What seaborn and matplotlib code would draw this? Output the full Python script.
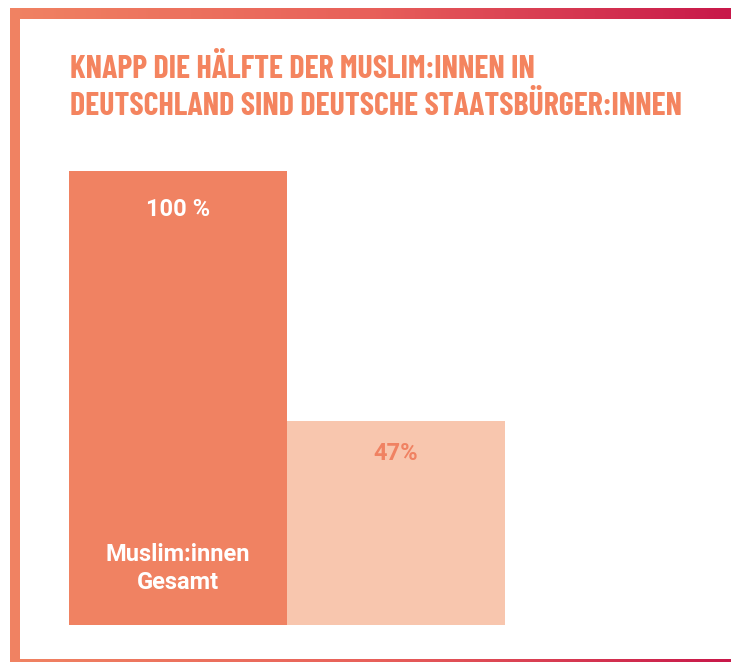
import matplotlib
matplotlib.use("Agg")
import matplotlib.pyplot as plt
import numpy as np
import pandas as pd
import seaborn as sns
from matplotlib.colors import LinearSegmentedColormap

# data (bar heights as drawn in the picture, labels as printed)
categories = ["Muslim:innen Gesamt", "Deutsche Staatsbürger:innen"]
values = [100, 45]
value_labels = ["100 %", "47%"]
bar_colors = ["#F08262", "#F8C6AE"]
label_colors = ["#FFFFFF", "#F08262"]

title_lines = ["KNAPP DIE HÄLFTE DER MUSLIM:INNEN IN",
               "DEUTSCHLAND SIND DEUTSCHE STAATSBÜRGER:INNEN"]

sns.set_theme(style="white")
plt.rcParams["font.family"] = ["Roboto", "DejaVu Sans"]

W, H = 731, 662
fig = plt.figure(figsize=(W / 100, H / 100), dpi=100)

# frame with gradient
bg = fig.add_axes([0, 0, 1, 1])
bg.set_xlim(0, W)
bg.set_ylim(H, 0)
bg.axis("off")
grad = LinearSegmentedColormap.from_list("frame", ["#F08262", "#E8605A", "#C8184A"])
g = np.linspace(0, 1, 256).reshape(1, -1)
bg.imshow(g, cmap=grad, extent=[10, W, 19, 8], aspect="auto")
bg.imshow(g, cmap=grad, extent=[20, W, H, 659], aspect="auto")
bg.add_patch(plt.Rectangle((10, 8), 10, H - 8, color="#F08262", lw=0))

title_fam = ["Barlow Condensed", "Fira Sans Condensed", "DejaVu Sans"]
titles = []
for line, yb in zip(title_lines, [78, 115]):
    titles.append(bg.text(70, yb, line, color="#F4845F", fontsize=26, fontweight="bold",
                          family=title_fam, va="baseline"))

# fit the long title line to the reference width
r = fig.canvas.get_renderer()
w = titles[1].get_window_extent(r).width
for t in titles:
    t.set_fontsize(26 * 614 / w)

df = pd.DataFrame({"category": categories, "value": values})

ax = fig.add_axes([69 / W, (H - 625) / H, (505 - 69) / W, (625 - 171) / H])
sns.barplot(data=df, x="category", y="value", hue="category", palette=bar_colors,
            width=1.0, legend=False, ax=ax, saturation=1, linewidth=0)
ax.set_xlim(-0.5, 1.5)
ax.set_ylim(0, 100)
ax.axis("off")

for i, (v, lab, c, off) in enumerate(zip(values, value_labels, label_colors, [39, 33])):
    ax.annotate(lab, (i, v), xytext=(0, -off), textcoords="offset pixels",
                ha="center", va="center", color=c, fontsize=17, fontweight="bold")

ax.text(0, 12.4, "Muslim:innen\nGesamt", ha="center", va="center", color="white",
        fontsize=17, fontweight="bold", linespacing=1.25)

fig.savefig("out.png", dpi=100)
